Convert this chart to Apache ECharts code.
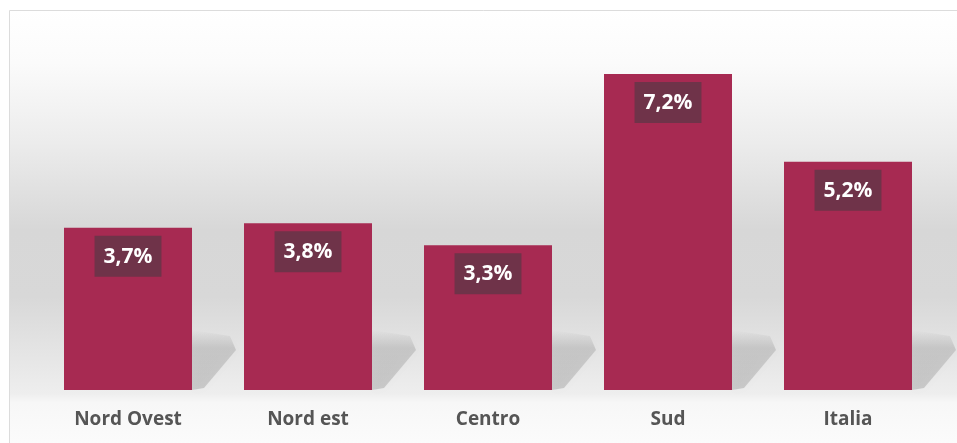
<!DOCTYPE html>
<html>
<head>
    <meta charset="utf-8">
    <title>Nord Ovest - Italia</title>
    <script src="https://cdn.jsdelivr.net/npm/echarts@6/dist/echarts.min.js"></script>
    <style>
        html, body { margin: 0; padding: 0; background: #ffffff; }
        #main { width: 957px; height: 443px; }
    </style>
</head>
<body>
<div id="main"></div>
<script>
// dati
const categories = ['Nord Ovest', 'Nord est', 'Centro', 'Sud', 'Italia'];
const values = [3.7, 3.8, 3.3, 7.2, 5.2];

const BAR_W = 128;

const option = {
    backgroundColor: '#ffffff',
    animation: false,
    graphic: [{
        type: 'rect',
        z: -10,
        silent: true,
        shape: { x: 9.5, y: 10.5, width: 960, height: 440 },
        style: {
            stroke: '#dcdcdc',
            lineWidth: 1,
            fill: new echarts.graphic.LinearGradient(0, 0, 0, 1, [
                { offset: 0, color: '#ffffff' },
                { offset: 0.12, color: '#fbfbfb' },
                { offset: 0.3, color: '#ececec' },
                { offset: 0.5, color: '#d7d7d7' },
                { offset: 0.65, color: '#d8d8d8' },
                { offset: 0.77, color: '#e4e4e4' },
                { offset: 0.87, color: '#eeeeee' },
                { offset: 0.89, color: '#f7f7f7' },
                { offset: 1, color: '#fcfcfc' }
            ])
        }
    }],
    grid: { left: 38, right: 19, top: 39, bottom: 53 },
    xAxis: {
        type: 'category',
        data: categories,
        axisLine: { show: false },
        axisTick: { show: false },
        axisLabel: {
            color: '#555555',
            fontFamily: 'Open Sans',
            fontWeight: 'bold',
            fontSize: 19,
            margin: 20
        }
    },
    yAxis: {
        type: 'value',
        min: 0,
        max: 8,
        show: false,
        splitLine: { show: false }
    },
    series: [{
        // ombre diagonali dietro le barre
        type: 'custom',
        silent: true,
        z: 1,
        data: values.map((v, i) => [i, v]),
        renderItem: function (params, api) {
            const p = api.coord([api.value(0), 0]);
            const rx = p[0] + BAR_W / 2;
            const by = p[1];
            return {
                type: 'polygon',
                shape: {
                    points: [[rx, by - 60], [rx + 38, by - 54], [rx + 44, by - 40], [rx + 12, by - 2], [rx, by]]
                },
                style: {
                    fill: new echarts.graphic.LinearGradient(0, 0, 0, 1, [
                        { offset: 0, color: 'rgba(0,0,0,0)' },
                        { offset: 0.3, color: 'rgba(0,0,0,0.12)' },
                        { offset: 1, color: 'rgba(0,0,0,0.15)' }
                    ]),
                    shadowBlur: 8,
                    shadowColor: 'rgba(0,0,0,0.12)'
                }
            };
        }
    }, {
        type: 'bar',
        z: 2,
        data: values,
        barWidth: BAR_W,
        itemStyle: { color: '#a72a52' },
        label: {
            show: true,
            position: 'insideTop',
            distance: 8,
            formatter: p => p.value.toFixed(1).replace('.', ',') + '%',
            color: '#ffffff',
            fontFamily: 'Open Sans',
            fontWeight: 'bold',
            fontSize: 21,
            lineHeight: 22,
            backgroundColor: '#6f3349',
            padding: [10, 9, 9, 9]
        }
    }]
};

const chart = echarts.init(document.getElementById('main'));
chart.setOption(option);
</script>
</body>
</html>
